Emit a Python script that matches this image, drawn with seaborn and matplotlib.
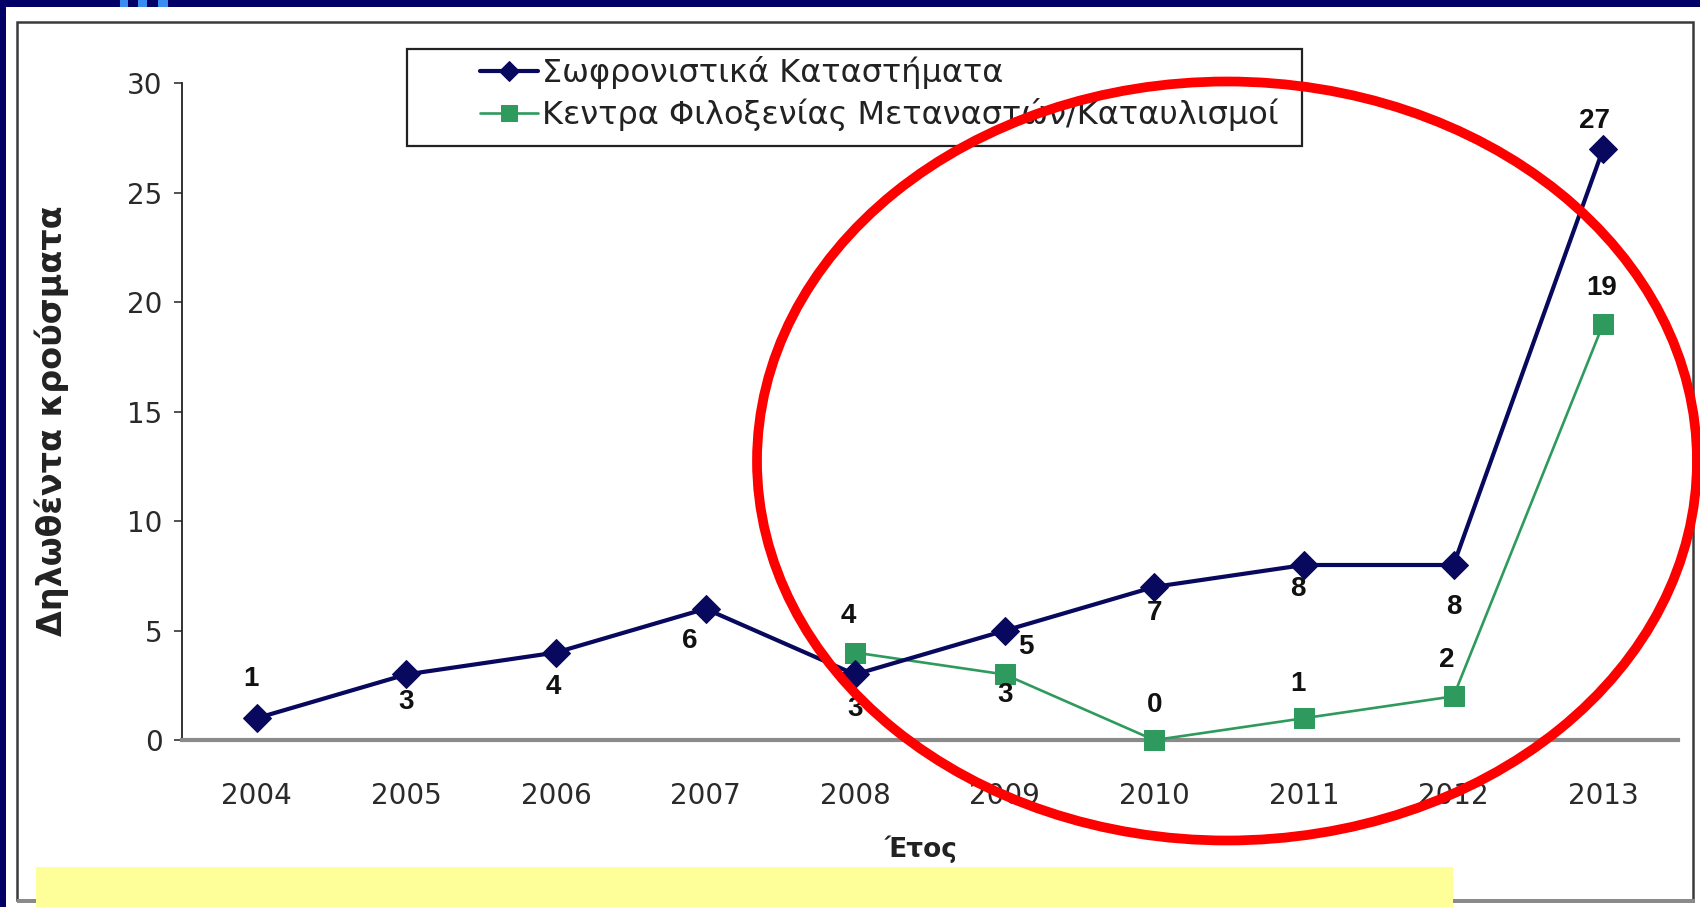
import matplotlib
matplotlib.use("Agg")
import matplotlib.pyplot as plt
import numpy as np
import pandas as pd
import seaborn as sns
from matplotlib.patches import Ellipse, Rectangle

# ---- data -------------------------------------------------------------
years = ["2004", "2005", "2006", "2007", "2008", "2009", "2010", "2011", "2012", "2013"]
prison_cases = [1, 3, 4, 6, 3, 5, 7, 8, 8, 27]
camp_years = ["2008", "2009", "2010", "2011", "2012", "2013"]
camp_cases = [4, 3, 0, 1, 2, 19]
series_names = ["Σωφρονιστικά Καταστήματα", "Κεντρα Φιλοξενίας Μεταναστών/Καταυλισμοί"]
y_ticks = [0, 5, 10, 15, 20, 25, 30]
y_label = "Δηλωθέντα κρούσματα"
x_label = "Έτος"

# value-label offsets (points) for each series
prison_label_offsets = [(-4, 28), (0, -20), (-2, -25), (-11, -23), (0, -25),
                        (15, -12), (0, -19), (-4, -17), (0, -30), (-6, 20)]
camp_label_offsets = [(-5, 26), (0, -15), (0, 25), (-4, 25), (-5, 26), (-1, 26)]

NAVY = "#08085e"
GREEN = "#2f9a5e"

sns.set_theme(style="white")
plt.rcParams["font.family"] = ["DejaVu Sans"]

fig = plt.figure(figsize=(17.0, 9.07), dpi=100)
fig.patch.set_facecolor("white")
ax = fig.add_axes([0.107, 0.184, 0.880, 0.724])
ax.set_facecolor("white")

pos = {y: i for i, y in enumerate(years)}
df_prison = pd.DataFrame({"x": [pos[y] for y in years], "cases": prison_cases})
df_camp = pd.DataFrame({"x": [pos[y] for y in camp_years], "cases": camp_cases})

sns.lineplot(data=df_prison, x="x", y="cases", ax=ax, color=NAVY, linewidth=3.0,
             marker="D", markersize=14, markeredgecolor=NAVY, markerfacecolor=NAVY,
             label=series_names[0], clip_on=False, zorder=4)
sns.lineplot(data=df_camp, x="x", y="cases", ax=ax, color=GREEN, linewidth=1.9,
             marker="s", markersize=15, markeredgecolor=GREEN, markerfacecolor=GREEN,
             label=series_names[1], clip_on=False, zorder=3)

# value labels
label_style = dict(textcoords="offset points", ha="center", va="center",
                   fontsize=20, fontweight="bold", color="#111111", zorder=6,
                   annotation_clip=False, family=["Liberation Sans", "DejaVu Sans"])
for x, v, (dx, dy) in zip(df_prison["x"], df_prison["cases"], prison_label_offsets):
    ax.annotate(str(v), (x, v), xytext=(dx, dy), **label_style)
for x, v, (dx, dy) in zip(df_camp["x"], df_camp["cases"], camp_label_offsets):
    ax.annotate(str(v), (x, v), xytext=(dx, dy), **label_style)

# axes styling
ax.set_xlim(-0.5, len(years) - 0.5)
ax.set_ylim(0, 30)
ax.set_yticks(y_ticks)
ax.set_yticklabels([str(t) for t in y_ticks])
ax.set_xticks(range(len(years)))
ax.set_xticklabels(years)
ax.set_xticks(np.arange(-0.5, len(years), 1.0), minor=True)
ax.tick_params(axis="x", which="major", length=0, pad=30, labelsize=20, labelcolor="#2a2a2a")
ax.tick_params(axis="x", which="minor", length=8, width=1.3, color="#555555", direction="out")
ax.tick_params(axis="y", which="major", length=6, width=1.2, color="#333333",
               direction="out", pad=8, labelsize=20, labelcolor="#2a2a2a", left=True)
for s in ["top", "right"]:
    ax.spines[s].set_visible(False)
ax.spines["left"].set_color("#222222")
ax.spines["left"].set_linewidth(1.3)
ax.spines["bottom"].set_color("#8a8a8a")
ax.spines["bottom"].set_linewidth(3.0)
ax.grid(False)

ax.set_xlabel(x_label, fontsize=19, fontweight="bold", color="#222222")
ax.set_ylabel(y_label, fontsize=24, fontweight="bold", color="#222222")
ax.xaxis.set_label_coords(0.494, -0.166)
ax.xaxis.label.set_va("center")
ax.yaxis.set_label_coords(-0.087, 0.487)
ax.yaxis.label.set_va("center")

# legend: box drawn separately so the entries can sit with a wide left margin
handles, labels = ax.get_legend_handles_labels()
if ax.legend_:
    ax.legend_.remove()
fig.add_artist(Rectangle((407 / 1700, 1 - 146 / 907), 895 / 1700, 97 / 907,
                         transform=fig.transFigure, facecolor="white",
                         edgecolor="#222222", linewidth=1.6, zorder=4))
leg = fig.legend(handles, labels, loc="upper left", bbox_to_anchor=(0.2826, 0.9385),
                 bbox_transform=fig.transFigure, fontsize=23, frameon=False,
                 handlelength=1.8, handletextpad=0.12, labelspacing=0.30,
                 borderpad=0, borderaxespad=0, markerscale=0.75)
leg.set_zorder(5)
for t in leg.get_texts():
    t.set_color("#222222")

# page decoration: navy slide border, chart frame, caption strip
fig.add_artist(Rectangle((0, 1 - 7 / 907), 1, 7 / 907, transform=fig.transFigure,
                         facecolor="#000066", edgecolor="none", zorder=0))
fig.add_artist(Rectangle((0, 0), 6 / 1700, 1, transform=fig.transFigure,
                         facecolor="#000066", edgecolor="none", zorder=0))
for x0, w in [(120, 8), (138, 9), (158, 10)]:
    fig.add_artist(Rectangle((x0 / 1700, 1 - 7 / 907), w / 1700, 7 / 907,
                             transform=fig.transFigure, facecolor="#3a8cf0",
                             edgecolor="none", zorder=1))
fig.add_artist(Rectangle((17 / 1700, 7 / 907), 1676 / 1700, 878 / 907,
                         transform=fig.transFigure, facecolor="none",
                         edgecolor="#3a3a3a", linewidth=1.8, zorder=1))
fig.add_artist(Rectangle((17 / 1700, 4 / 907), 1678 / 1700, 4 / 907,
                         transform=fig.transFigure, facecolor="#8a8a8a",
                         edgecolor="none", zorder=1))
fig.add_artist(Rectangle((36 / 1700, 0), 1417 / 1700, 40 / 907,
                         transform=fig.transFigure, facecolor="#ffff99",
                         edgecolor="none", zorder=2))

# highlight ring
fig.add_artist(Ellipse((1227 / 1700, 1 - 461 / 907), 940 / 1700, 759 / 907,
                       transform=fig.transFigure, facecolor="none",
                       edgecolor="#ff0000", linewidth=7, zorder=10))

fig.savefig("out.png", dpi=100, facecolor="white")
